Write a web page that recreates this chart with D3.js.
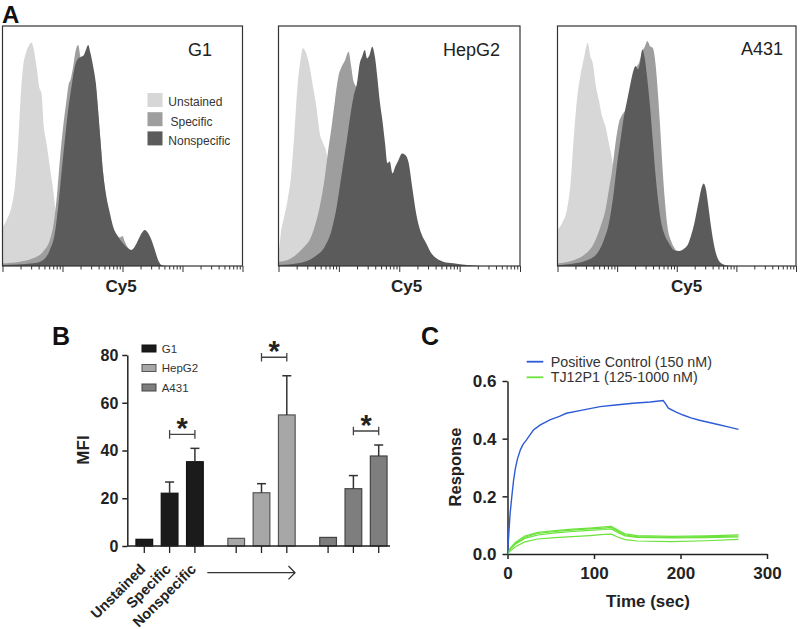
<!DOCTYPE html>
<html><head><meta charset="utf-8">
<script src="https://cdn.jsdelivr.net/npm/d3@7"></script>
<style>body{margin:0;background:#fff}svg{display:block}</style>
</head><body><svg id="c" width="800" height="629"></svg>
<script>
// ---------------- DATA ----------------
// Panel A: flow cytometry histograms, points = [log10(Cy5 intensity), % of max count]
const cy5Majors = [1, 10, 100, 1000, 10000];
const histPanels = ["G1", "HepG2", "A431"];
const histSeries = ["Unstained", "Specific", "Nonspecific"];

const g1Unstained = [[0,16],[0.067,19.2],[0.15,24.7],[0.206,33.1],[0.261,51.1],[0.3,69.2],[0.344,83.1],[0.389,88.6],[0.444,92.1],[0.483,93.1],[0.511,91.4],[0.567,83.1],[0.611,74.7],[0.65,71.9],[0.689,58.1],[0.733,51.1],[0.789,41.4],[0.844,31.7],[0.889,21.9],[0.944,10.8],[1.011,3.9],[1.122,1.1],[1.289,0]];
const g1Specific = [[0,1.1],[0.289,1.8],[0.511,3.2],[0.678,6],[0.789,10.8],[0.844,16.4],[0.9,27.5],[0.956,44.2],[1.011,58.1],[1.067,69.2],[1.106,76.1],[1.133,77.5],[1.178,83.1],[1.222,90],[1.261,92.1],[1.3,87.2],[1.344,84.4],[1.389,86.5],[1.428,88.6],[1.483,84.4],[1.567,71.9],[1.622,55.3],[1.678,38.6],[1.733,27.5],[1.789,19.2],[1.872,13.6],[1.956,11.9],[2,12.5],[2.039,10.1],[2.094,7.4],[2.178,3.9],[2.344,1.1],[2.567,0]];
const g1Nonspecific = [[0,0.4],[0.511,1.1],[0.678,2.5],[0.789,6.7],[0.872,13.6],[0.928,24.7],[0.983,38.6],[1.039,52.5],[1.094,65],[1.15,74.7],[1.206,83.1],[1.261,86.5],[1.317,87.2],[1.356,87.9],[1.389,90],[1.428,92.1],[1.467,88.6],[1.511,83.1],[1.556,76.1],[1.594,65],[1.633,52.5],[1.678,38.6],[1.722,30.3],[1.778,23.3],[1.844,16.4],[1.928,12.2],[2.011,9.4],[2.094,7.4],[2.15,6.7],[2.206,8.1],[2.261,10.8],[2.317,13.6],[2.372,15],[2.428,13.6],[2.483,10.8],[2.539,6.7],[2.594,2.5],[2.65,0.4],[2.733,0]];

const hepg2Unstained = [[0,4],[0.039,13.6],[0.095,20.6],[0.151,27.5],[0.207,37.2],[0.263,55.3],[0.319,76.1],[0.364,85.8],[0.403,90.7],[0.459,88.6],[0.515,83.1],[0.571,74.7],[0.627,66.4],[0.683,55.3],[0.739,51.1],[0.796,46.9],[0.852,35.8],[0.908,24.7],[0.964,15],[1.048,6.7],[1.16,1.8],[1.272,0.4],[1.384,0]];
const hepg2Specific = [[0,1.8],[0.151,2.5],[0.319,5.3],[0.431,8.1],[0.515,10.8],[0.599,16.4],[0.683,24.7],[0.768,37.2],[0.824,48.3],[0.88,58.1],[0.936,69.2],[0.992,78.9],[1.048,83.1],[1.104,85.8],[1.16,89.3],[1.204,83.1],[1.244,76.8],[1.3,74.7],[1.356,78.9],[1.44,69.2],[1.608,52.5],[1.776,33.1],[1.944,20.6],[2.112,10.8],[2.336,5.3],[2.672,1.8],[3.008,0.4],[3.289,0]];
const hepg2Nonspecific = [[0,0.4],[0.319,1.1],[0.599,3.9],[0.768,8.1],[0.88,15],[0.964,24.7],[1.048,38.6],[1.132,52.5],[1.204,65],[1.244,70.6],[1.3,76.1],[1.345,84.4],[1.384,87.2],[1.429,90],[1.468,86.5],[1.507,87.9],[1.552,91.4],[1.597,87.2],[1.636,78.9],[1.675,69.2],[1.72,60.8],[1.765,51.1],[1.804,42.8],[1.843,43.5],[1.888,38.6],[1.933,41.4],[1.989,44.2],[2.045,46.9],[2.101,46.3],[2.157,42.8],[2.213,33.1],[2.28,21.9],[2.364,13.6],[2.448,9.4],[2.532,5.3],[2.616,3.2],[2.728,1.8],[2.896,1.1],[3.12,0.4],[3.345,0]];

const a431Unstained = [[0,14.9],[0.073,17.7],[0.157,23.3],[0.214,33.1],[0.27,52.6],[0.326,69.3],[0.382,79.1],[0.439,86.1],[0.484,91.6],[0.506,93],[0.551,87.4],[0.596,84],[0.636,76.3],[0.692,69.3],[0.748,62.3],[0.804,58.2],[0.861,51.2],[0.917,44.2],[0.973,33.1],[1.029,20.5],[1.102,10.7],[1.198,3.8],[1.339,1],[1.564,0]];
const a431Specific = [[0,1],[0.27,2.4],[0.439,4.5],[0.607,9.3],[0.72,16.3],[0.804,23.3],[0.861,31.7],[0.917,40],[0.973,51.2],[1.029,59.6],[1.085,63],[1.142,65.1],[1.198,69.3],[1.254,73.5],[1.31,81.9],[1.367,84.7],[1.423,89.5],[1.468,91.6],[1.507,93.7],[1.552,91.6],[1.597,90.9],[1.642,84.7],[1.676,74.9],[1.721,58.2],[1.76,41.4],[1.8,27.5],[1.845,16.3],[1.901,10.7],[1.985,6.6],[2.098,3.8],[2.295,1.7],[2.52,0.7],[2.745,0]];
const a431Nonspecific = [[0,0.3],[0.27,1],[0.495,2.4],[0.664,5.2],[0.776,10.7],[0.861,17.7],[0.934,28.9],[1.001,42.8],[1.057,52.6],[1.114,62.3],[1.17,69.3],[1.226,76.3],[1.271,81.2],[1.31,83.3],[1.35,81.9],[1.384,84.7],[1.423,90.2],[1.462,86.8],[1.507,77.7],[1.552,66.5],[1.597,52.6],[1.642,38.6],[1.687,27.5],[1.732,19.1],[1.789,13.5],[1.873,9.3],[1.957,6.6],[2.042,6.3],[2.126,7.3],[2.193,9.3],[2.25,13.5],[2.306,19.1],[2.362,26.1],[2.407,31.7],[2.452,34.4],[2.492,31.7],[2.531,24.7],[2.576,16.3],[2.632,7.9],[2.688,3.1],[2.773,0.7],[2.913,0]];

// Panel B: MFI bars
const barGroups = ["G1", "HepG2", "A431"];
const barConditions = ["Unstained", "Specific", "Nonspecific"];
const g1MFI = [2.8, 22.1, 35.3];
const g1SD = [0, 4.7, 5.6];
const hepg2MFI = [3.2, 22.3, 54.9];
const hepg2SD = [0, 3.8, 16.4];
const a431MFI = [3.6, 24.0, 37.7];
const a431SD = [0, 5.5, 4.6];
const mfiTicks = [0, 20, 40, 60, 80];

// Panel C: binding response, points = [time (s), response]
const timeTicks = [0, 100, 200, 300];
const responseTicks = [0, 0.2, 0.4, 0.6];
const positiveControl = [[0,0],[1.5,0.07],[3,0.14],[5,0.2],[7,0.255],[9,0.295],[11.5,0.33],[15,0.362],[18,0.38],[22,0.396],[26,0.413],[30,0.43],[38,0.448],[49,0.465],[60,0.477],[68,0.488],[85,0.498],[107,0.511],[125,0.517],[145,0.523],[165,0.527],[180,0.532],[183,0.52],[186,0.506],[195,0.492],[203,0.482],[212,0.472],[222,0.464],[232,0.457],[242,0.45],[255,0.441],[267,0.432]];
const tj12p1_1000 = [[0,0],[3,0.02],[9,0.04],[20,0.062],[35,0.075],[55,0.081],[75,0.086],[95,0.09],[112,0.094],[120,0.096],[128,0.082],[136,0.07],[150,0.064],[190,0.061],[230,0.063],[267,0.066]];
const tj12p1_500 = [[0,0],[3,0.018],[9,0.037],[20,0.058],[35,0.071],[55,0.078],[75,0.083],[95,0.087],[112,0.09],[120,0.092],[128,0.078],[136,0.066],[150,0.06],[190,0.058],[230,0.06],[267,0.062]];
const tj12p1_250 = [[0,0],[3,0.016],[9,0.034],[20,0.054],[35,0.066],[55,0.073],[75,0.078],[95,0.082],[112,0.085],[120,0.087],[128,0.074],[136,0.063],[150,0.058],[190,0.056],[230,0.057],[267,0.059]];
const tj12p1_125 = [[0,0],[3,0.01],[9,0.025],[20,0.042],[35,0.052],[55,0.057],[75,0.06],[95,0.064],[112,0.068],[120,0.069],[128,0.058],[136,0.05],[150,0.045],[190,0.043],[230,0.046],[267,0.051]];

// ---------------- DRAWING ----------------
const FONT = "'Liberation Sans', Arial, Helvetica, sans-serif";
const svg = d3.select("#c").style("font-family", FONT);
svg.append("rect").attr("width", 800).attr("height", 629).attr("fill", "#fff");

function panelLetter(t, x, y, fs) {
  svg.append("text").attr("x", x).attr("y", y).text(t)
    .attr("font-size", fs).attr("font-weight", "bold").attr("fill", "#111");
}
panelLetter("A", 2, 22.5, 24);
panelLetter("B", 52, 345, 25);
panelLetter("C", 421, 345, 25);

// ---- Panel A ----
const histData = {
  G1: [g1Unstained, g1Specific, g1Nonspecific],
  HepG2: [hepg2Unstained, hepg2Specific, hepg2Nonspecific],
  A431: [a431Unstained, a431Specific, a431Nonspecific]
};
const histColors = ["#d7d7d7", "#9e9e9e", "#5b5b5b"];
const histLayout = [
  {left: 2.5, width: 240, labelX: 212, labelY: 56, cyX: 121},
  {left: 278.5, width: 241.5, labelX: 500, labelY: 56, cyX: 406.7},
  {left: 557.5, width: 238.5, labelX: 783, labelY: 55, cyX: 686.7}
];
const hTop = 26, hBot = 266;
const hy = d3.scaleLinear().domain([0, 100]).range([hBot, hTop]);
const minorTicks = [];
for (let e = 0; e < 4; e++) for (let k = 2; k <= 9; k++) minorTicks.push(k * Math.pow(10, e));

histPanels.forEach((name, i) => {
  const L = histLayout[i];
  const hx = d3.scaleLog().domain([1, 1e4]).range([L.left, L.left + L.width]);
  const g = svg.append("g");
  const clipId = "clip" + i;
  g.append("clipPath").attr("id", clipId).append("rect")
    .attr("x", L.left).attr("y", hTop).attr("width", L.width).attr("height", hBot - hTop);
  const area = d3.area()
    .x(d => hx(Math.pow(10, d[0])))
    .y0(hy(0)).y1(d => hy(d[1]))
    .curve(d3.curveMonotoneX);
  const ga = g.append("g").attr("clip-path", `url(#${clipId})`);
  histData[name].forEach((ser, j) => {
    ga.append("path").datum(ser).attr("d", area).attr("fill", histColors[j]);
  });
  // ticks
  const major = d3.axisBottom(hx).tickValues(cy5Majors).tickSize(6).tickFormat("");
  const minor = d3.axisBottom(hx).tickValues(minorTicks).tickSize(3.5).tickFormat("");
  [major, minor].forEach(ax => {
    const a = g.append("g").attr("transform", `translate(0,${hBot})`).call(ax);
    a.select(".domain").remove();
    a.selectAll("line").attr("stroke", "#333").attr("stroke-width", 1);
  });
  g.append("rect").attr("x", L.left).attr("y", hTop).attr("width", L.width).attr("height", hBot - hTop)
    .attr("fill", "none").attr("stroke", "#333").attr("stroke-width", 1.2);
  g.append("text").attr("x", L.labelX).attr("y", L.labelY).attr("text-anchor", "end")
    .attr("font-size", 18).attr("fill", "#222").text(name);
  g.append("text").attr("x", L.cyX).attr("y", 292).attr("text-anchor", "middle")
    .attr("font-size", 17).attr("font-weight", "bold").attr("fill", "#222").text("Cy5");
});
// legend A
const legA = svg.append("g");
histSeries.forEach((s, j) => {
  legA.append("rect").attr("x", 147.5).attr("y", 93 + j * 19.2).attr("width", 15).attr("height", 14)
    .attr("fill", histColors[j]);
  legA.append("text").attr("x", j === 1 ? 170.5 : 168.3).attr("y", 106 + j * 19.5)
    .attr("font-size", 12).attr("fill", "#333").text(s);
});

// ---- Panel B ----
const mfiData = {G1: [g1MFI, g1SD], HepG2: [hepg2MFI, hepg2SD], A431: [a431MFI, a431SD]};
const barFill = {G1: "#1b1b1b", HepG2: "#a7a7a7", A431: "#7e7e7e"};
const barStroke = {G1: "#111", HepG2: "#555", A431: "#444"};
const by = d3.scaleLinear().domain([0, 80]).range([546, 355]);
const bxG = d3.scaleBand().domain(barGroups).range([131.65, 391.35]).paddingInner(0.174).paddingOuter(0);
const bxC = d3.scaleBand().domain(barConditions).range([0, bxG.bandwidth()]).paddingInner(0.34).paddingOuter(0.17);
const gB = svg.append("g");
const yAxB = gB.append("g").attr("transform", "translate(127.3,0)")
  .call(d3.axisLeft(by).tickValues(mfiTicks).tickSize(5).tickSizeOuter(0).tickPadding(4));
yAxB.select(".domain").attr("stroke", "#222").attr("stroke-width", 1.5);
yAxB.selectAll(".tick line").attr("stroke", "#222").attr("stroke-width", 1.5);
yAxB.selectAll(".tick text").attr("font-size", 16).attr("font-weight", "bold").attr("fill", "#222")
  .attr("font-family", FONT).attr("dy", "0.34em");
gB.append("text").attr("transform", "translate(83.5,450) rotate(-90)").attr("text-anchor", "middle")
  .attr("dy", "0.35em").attr("font-size", 17).attr("font-weight", "bold").attr("fill", "#222").text("MFI");

barGroups.forEach(grp => {
  const [vals, sds] = mfiData[grp];
  barConditions.forEach((c, k) => {
    const x0 = bxG(grp) + bxC(c), w = bxC.bandwidth(), cx = x0 + w / 2;
    gB.append("rect").attr("x", x0).attr("y", by(vals[k])).attr("width", w)
      .attr("height", by(0) - by(vals[k])).attr("fill", barFill[grp])
      .attr("stroke", barStroke[grp]).attr("stroke-width", 1.2);
    if (sds[k] > 0) {
      const top = by(vals[k] + sds[k]);
      gB.append("line").attr("x1", cx).attr("x2", cx).attr("y1", by(vals[k])).attr("y2", top)
        .attr("stroke", "#333").attr("stroke-width", 1.5);
      gB.append("line").attr("x1", cx - 4.5).attr("x2", cx + 4.5).attr("y1", top).attr("y2", top)
        .attr("stroke", "#333").attr("stroke-width", 1.5);
    }
    gB.append("line").attr("x1", cx).attr("x2", cx).attr("y1", by(0)).attr("y2", by(0) + 7)
      .attr("stroke", "#222").attr("stroke-width", 1.3);
    if (grp === "G1") {
      gB.append("text").attr("transform", `translate(${cx + 2},${by(0) + 24}) rotate(-45)`)
        .attr("text-anchor", "end").attr("font-size", 14.5).attr("font-weight", "bold")
        .attr("fill", "#222").text(c);
    }
  });
  // significance bracket between Specific and Nonspecific
  const xa = bxG(grp) + bxC("Specific") + bxC.bandwidth() / 2;
  const xb = bxG(grp) + bxC("Nonspecific") + bxC.bandwidth() / 2;
  const topVal = vals[2] + sds[2];
  const yb = by(topVal) - (grp === "HepG2" ? 18.5 : 14);
  gB.append("path").attr("d", `M${xa},${yb - 4.3}V${yb + 4.3}M${xa},${yb}H${xb}M${xb},${yb - 4.3}V${yb + 4.3}`)
    .attr("fill", "none").attr("stroke", "#444").attr("stroke-width", 1.3);
  gB.append("text").attr("x", (xa + xb) / 2).attr("y", yb + 3.5).attr("text-anchor", "middle")
    .attr("font-size", 29).attr("font-weight", "bold").attr("fill", "#222").text("*");
});
gB.append("line").attr("x1", 127.3).attr("x2", 390).attr("y1", by(0)).attr("y2", by(0))
  .attr("stroke", "#222").attr("stroke-width", 1.5);
// arrow
gB.append("path").attr("d", "M207.3,572.7H295M288.5,566L295,572.7L288.5,579.4")
  .attr("fill", "none").attr("stroke", "#333").attr("stroke-width", 1.3);
// legend B
barGroups.forEach((grp, k) => {
  gB.append("rect").attr("x", 142).attr("y", 345 + k * 19.5).attr("width", 14).attr("height", 7)
    .attr("fill", barFill[grp]).attr("stroke", barStroke[grp]).attr("stroke-width", 1);
  gB.append("text").attr("x", 161.7).attr("y", 353 + k * 19.3).attr("font-size", 11.5)
    .attr("fill", "#333").text(grp);
});

// ---- Panel C ----
const cx = d3.scaleLinear().domain([0, 300]).range([507.5, 767]);
const cy = d3.scaleLinear().domain([0, 0.6]).range([554, 381]);
const gC = svg.append("g");
const xAxC = gC.append("g").attr("transform", "translate(0,554)")
  .call(d3.axisBottom(cx).tickValues(timeTicks).tickSize(5).tickSizeOuter(0).tickPadding(8));
const yAxC = gC.append("g").attr("transform", "translate(507.5,0)")
  .call(d3.axisLeft(cy).tickValues(responseTicks).tickFormat(d3.format(".1f")).tickSize(5).tickSizeOuter(0).tickPadding(6));
[xAxC, yAxC].forEach(a => {
  a.select(".domain").attr("stroke", "#222").attr("stroke-width", 1.5);
  a.selectAll(".tick line").attr("stroke", "#222").attr("stroke-width", 1.5);
  a.selectAll(".tick text").attr("font-size", 17).attr("font-weight", "bold").attr("fill", "#222")
    .attr("font-family", FONT);
});
yAxC.selectAll(".tick text").attr("dy", "0.34em");
gC.append("text").attr("x", 648).attr("y", 607).attr("text-anchor", "middle")
  .attr("font-size", 17).attr("font-weight", "bold").attr("fill", "#222").text("Time (sec)");
gC.append("text").attr("transform", "translate(455,467) rotate(-90)").attr("text-anchor", "middle")
  .attr("dy", "0.35em").attr("font-size", 16.5).attr("font-weight", "bold").attr("fill", "#222").text("Response");

const line = d3.line().x(d => cx(d[0])).y(d => cy(d[1]));
const greenColor = "#6ce23c";
const blueColor = "#2d5bd5";
[tj12p1_125, tj12p1_250, tj12p1_500, tj12p1_1000].forEach(s => {
  gC.append("path").datum(s).attr("d", line).attr("fill", "none")
    .attr("stroke", greenColor).attr("stroke-width", 1.2);
});
gC.append("path").datum(positiveControl).attr("d", line).attr("fill", "none")
  .attr("stroke", blueColor).attr("stroke-width", 1.4);
// legend C
const legC = [["Positive Control (150 nM)", blueColor, 361.7], ["TJ12P1 (125-1000 nM)", greenColor, 377.3]];
legC.forEach(([t, col, yy]) => {
  gC.append("line").attr("x1", 526.7).attr("x2", 543.3).attr("y1", yy).attr("y2", yy)
    .attr("stroke", col).attr("stroke-width", 1.8);
  gC.append("text").attr("x", 550.7).attr("y", yy + 5).attr("font-size", 14.3)
    .attr("fill", "#333").text(t);
});
</script></body></html>
